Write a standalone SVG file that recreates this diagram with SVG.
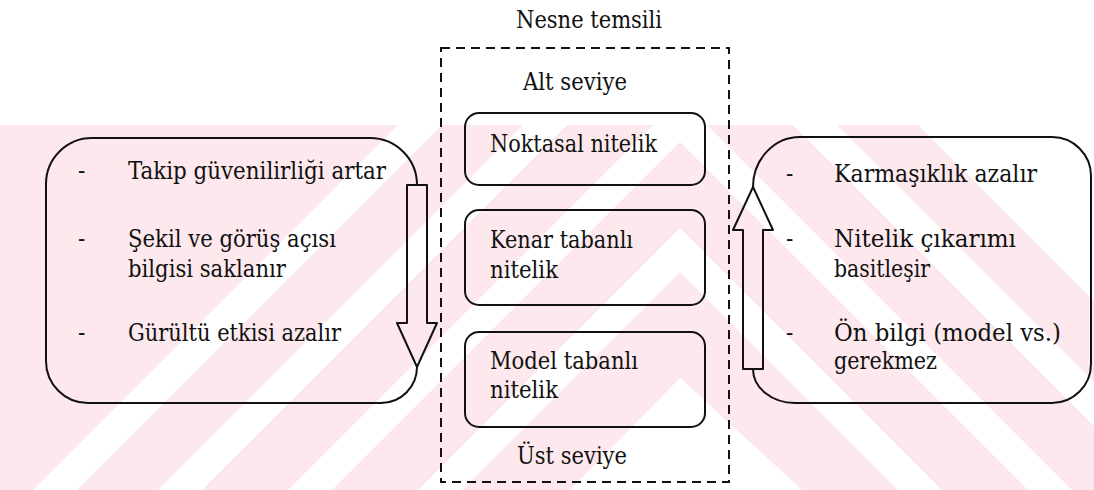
<svg xmlns="http://www.w3.org/2000/svg" width="1094" height="490" viewBox="0 0 1094 490">
<style>
.t{font-family:'DejaVu Serif Condensed','DejaVu Serif','Liberation Serif',serif;font-size:24px;fill:#111;}
.ln{fill:none;stroke:#111;stroke-width:2;stroke-linejoin:round;}
.dash{fill:none;stroke:#111;stroke-width:2;stroke-dasharray:9 6;}
.wm{fill:#fde9ed;}
.ws{fill:none;stroke:#fff;stroke-width:31;stroke-linejoin:miter;stroke-miterlimit:10;}
</style>
<rect width="1094" height="490" fill="#fff"/>
<g id="watermark">
<polygon class="wm" points="0,125 957,125 1094,262 1094,490 802,490 680,378 570,490 0,490"/>
<polyline class="ws" points="-55,600 680,-135 1415,600"/>
<polyline class="ws" points="70,600 680,-10 1290,600"/>
<polyline class="ws" points="200,600 680,120 1160,600"/>
<polyline class="ws" points="330,600 680,250 1030,600"/>
</g>
<g id="connectors">
<polygon id="arrow-down" class="ln" points="407,185 427,185 427,323 437,323 417,367 397,323 407,323"/>
<polygon id="arrow-up" class="ln" points="743,369 763,369 763,230 773,230 753,187 733,230 743,230"/>
</g>
<g id="nesne-temsili">
<text class="t" x="516" y="28" textLength="146" lengthAdjust="spacingAndGlyphs">Nesne temsili</text>
<rect class="dash" x="441" y="48" width="288" height="434"/>
<text class="t" x="523" y="90" textLength="104" lengthAdjust="spacingAndGlyphs">Alt seviye</text>
<text class="t" x="517" y="464" textLength="110" lengthAdjust="spacingAndGlyphs">Üst seviye</text>
</g>
<g id="noktasal">
<rect class="ln" x="465" y="113" width="240" height="72" rx="14"/>
<text class="t" x="490" y="152" textLength="167" lengthAdjust="spacingAndGlyphs">Noktasal nitelik</text>
</g>
<g id="kenar">
<rect class="ln" x="465" y="210" width="240" height="95" rx="14"/>
<text class="t" x="490" y="248" textLength="143" lengthAdjust="spacingAndGlyphs">Kenar tabanlı</text>
<text class="t" x="490" y="278" textLength="68" lengthAdjust="spacingAndGlyphs">nitelik</text>
</g>
<g id="model">
<rect class="ln" x="465" y="332" width="240" height="95" rx="14"/>
<text class="t" x="490" y="369" textLength="148" lengthAdjust="spacingAndGlyphs">Model tabanlı</text>
<text class="t" x="490" y="398" textLength="68" lengthAdjust="spacingAndGlyphs">nitelik</text>
</g>
<g id="left-box">
<path class="ln" d="M417,367 A36,36 0 0 1 381,403 H88 A42,42 0 0 1 46,361 V184 A46,46 0 0 1 92,138 H370 A47,47 0 0 1 417,185"/>
<text class="t" x="78" y="179">-</text><text class="t" x="128" y="179" textLength="258" lengthAdjust="spacingAndGlyphs">Takip güvenilirliği artar</text>
<text class="t" x="78" y="247">-</text><text class="t" x="128" y="247" textLength="208" lengthAdjust="spacingAndGlyphs">Şekil ve görüş açısı</text>
<text class="t" x="128" y="277" textLength="158" lengthAdjust="spacingAndGlyphs">bilgisi saklanır</text>
<text class="t" x="78" y="341">-</text><text class="t" x="128" y="341" textLength="213" lengthAdjust="spacingAndGlyphs">Gürültü etkisi azalır</text>
</g>
<g id="right-box">
<path class="ln" d="M753,187 A47,50 0 0 1 800,137 H1052 A39,39 0 0 1 1091,176 V364 A39,39 0 0 1 1052,403 H795 A42,34 0 0 1 753,369"/>
<text class="t" x="786" y="182">-</text><text class="t" x="834" y="182" textLength="203" lengthAdjust="spacingAndGlyphs">Karmaşıklık azalır</text>
<text class="t" x="786" y="247">-</text><text class="t" x="834" y="247" textLength="182" lengthAdjust="spacingAndGlyphs">Nitelik çıkarımı</text>
<text class="t" x="834" y="277" textLength="96" lengthAdjust="spacingAndGlyphs">basitleşir</text>
<text class="t" x="786" y="341">-</text><text class="t" x="834" y="341" textLength="227" lengthAdjust="spacingAndGlyphs">Ön bilgi (model vs.)</text>
<text class="t" x="834" y="369" textLength="103" lengthAdjust="spacingAndGlyphs">gerekmez</text>
</g>
</svg>
